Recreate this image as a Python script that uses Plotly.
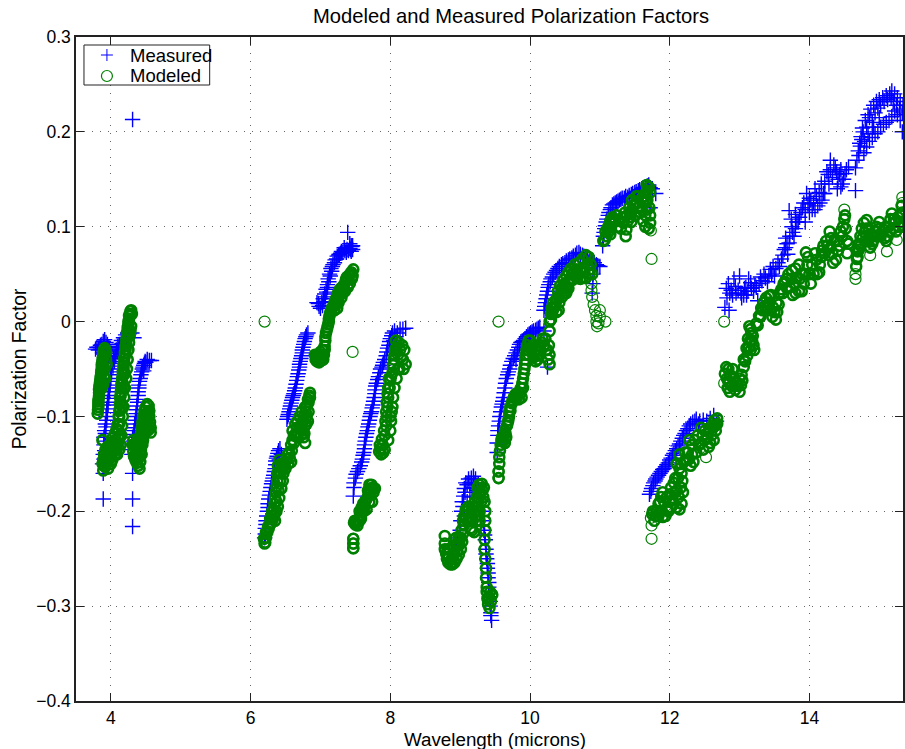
import plotly.graph_objects as go

# Values: (wavelength in microns, polarization factor)
measured_a = [(3.78,-.029),(3.8,-.027),(3.83,-.027),(3.85,-.025),(3.87,-.024),(3.89,-.021),(3.91,-.019),(3.93,-.022),(3.95,-.024),(3.97,-.027),(3.98,-.031),(3.96,-.036),(3.89,-.187),(3.89,-.16),(3.88,-.15),(3.89,-.14),(3.9,-.13),(3.9,-.122),(3.91,-.115),(3.92,-.108),(3.93,-.1),(3.94,-.092),(3.95,-.085),(3.96,-.078),(3.97,-.07),(3.98,-.063),(3.99,-.056),(4.0,-.05),(4.02,-.044),(4.04,-.039),(4.06,-.034),(4.08,-.03),(4.1,-.026),(4.12,-.024),(4.15,-.02),(4.18,-.017),(4.21,-.014),(4.24,-.012),(4.26,-.013),(4.3,-.012),(4.33,-.017)]
measured_a2 = [(3.9,-.145),(3.91,-.136),(3.92,-.126),(3.92,-.118),(3.93,-.111),(3.94,-.104),(3.95,-.096),(3.96,-.088),(3.97,-.081),(3.98,-.074),(3.99,-.067),(4.0,-.06),(4.01,-.053),(4.03,-.047),(4.05,-.042),(4.07,-.037),(4.09,-.032),(4.11,-.029),(4.13,-.027),(4.16,-.023),(4.19,-.02),(4.22,-.017),(3.88,-.033),(3.92,-.03),(3.94,-.028),(3.9,-.026),(3.85,-.029),(3.82,-.03)]
measured_b = [(4.31,.213),(4.31,-.216),(4.31,-.187),(4.31,-.16),(4.3,-.14),(4.3,-.13),(4.31,-.122),(4.33,-.115),(4.34,-.108),(4.36,-.1),(4.37,-.093),(4.38,-.085),(4.39,-.078),(4.4,-.07),(4.41,-.063),(4.43,-.056),(4.45,-.05),(4.47,-.046),(4.49,-.042),(4.52,-.04),(4.55,-.041),(4.58,-.041)]
measured_b2 = [(4.31,-.135),(4.32,-.126),(4.33,-.119),(4.34,-.112),(4.35,-.104),(4.36,-.097),(4.37,-.089),(4.38,-.082),(4.39,-.074),(4.4,-.067),(4.42,-.06),(4.44,-.053),(4.46,-.048),(4.48,-.044),(4.5,-.043),(4.47,-.052)]
measured_c = [(6.2,-.228),(6.21,-.218),(6.22,-.21),(6.24,-.2),(6.25,-.192),(6.27,-.183),(6.29,-.175),(6.31,-.168),(6.33,-.162),(6.35,-.155),(6.36,-.147),(6.38,-.142),(6.4,-.136),(6.42,-.134),(6.44,-.14),(6.52,-.103),(6.54,-.098),(6.56,-.092),(6.58,-.086),(6.6,-.08),(6.62,-.076),(6.64,-.07),(6.66,-.062),(6.68,-.055),(6.7,-.048),(6.71,-.042),(6.73,-.036),(6.74,-.03),(6.76,-.024),(6.78,-.018),(6.8,-.014),(6.82,-.012)]
measured_c2 = [(6.21,-.224),(6.22,-.214),(6.23,-.205),(6.25,-.196),(6.26,-.187),(6.28,-.179),(6.3,-.171),(6.32,-.165),(6.34,-.158),(6.36,-.151),(6.37,-.144),(6.39,-.139),(6.41,-.146),(6.53,-.1),(6.55,-.095),(6.57,-.089),(6.59,-.083),(6.61,-.078),(6.63,-.073),(6.65,-.066),(6.67,-.058),(6.69,-.051),(6.7,-.045),(6.72,-.039),(6.74,-.033),(6.75,-.027),(6.77,-.021),(6.79,-.016)]
measured_d = [(6.95,.02),(6.98,.016),(7.0,.014),(7.03,.017),(7.05,.021),(7.07,.026),(7.09,.031),(7.1,.036),(7.12,.042),(7.14,.048),(7.16,.053),(7.17,.058),(7.2,.062),(7.23,.066),(7.26,.07),(7.29,.072),(7.32,.073),(7.35,.075),(7.38,.076),(7.39,.094),(7.42,.077),(7.45,.079),(7.44,.08),(7.46,.08),(7.46,.076)]
measured_d2 = [(6.97,.019),(7.02,.02),(7.04,.024),(7.06,.029),(7.08,.034),(7.1,.039),(7.11,.045),(7.13,.05),(7.15,.056),(7.18,.06),(7.21,.065),(7.24,.069),(7.27,.071),(7.3,.074),(7.34,.078),(7.37,.073),(7.4,.075),(7.44,.074),(7.43,.076),(7.42,.082)]
measured_e = [(7.47,-.184),(7.48,-.175),(7.5,-.165),(7.53,-.158),(7.57,-.152),(7.6,-.145),(7.62,-.138),(7.63,-.13),(7.65,-.122),(7.67,-.115),(7.69,-.108),(7.71,-.1),(7.73,-.095),(7.75,-.088),(7.77,-.08),(7.78,-.072),(7.8,-.065),(7.83,-.058),(7.86,-.05),(7.89,-.046),(7.92,-.04),(7.95,-.032),(7.98,-.025),(8.0,-.018),(8.03,-.012),(8.06,-.01),(8.1,-.012),(8.14,-.008),(8.18,-.008),(8.22,-.007)]
measured_e2 = [(7.48,-.17),(7.51,-.161),(7.55,-.155),(7.59,-.148),(7.61,-.141),(7.63,-.134),(7.64,-.126),(7.66,-.118),(7.68,-.111),(7.7,-.104),(7.72,-.097),(7.74,-.091),(7.76,-.084),(7.78,-.076),(7.79,-.068),(7.82,-.061),(7.85,-.054),(7.88,-.048),(7.9,-.043),(7.94,-.036),(7.96,-.028),(7.99,-.021),(8.02,-.015),(8.05,-.02),(8.08,-.016)]
measured_f = [(8.84,-.25),(8.88,-.24),(8.92,-.235),(8.96,-.228),(9.0,-.22),(9.01,-.21),(9.02,-.2),(9.03,-.19),(9.05,-.184),(9.06,-.176),(9.08,-.17),(9.12,-.166),(9.16,-.165),(9.19,-.163),(9.22,-.166),(9.26,-.172),(9.29,-.18),(9.3,-.19),(9.32,-.2),(9.33,-.21),(9.34,-.22),(9.36,-.23),(9.37,-.24),(9.38,-.25),(9.39,-.26),(9.4,-.27),(9.41,-.28),(9.42,-.29),(9.43,-.3),(9.44,-.307),(9.45,-.315)]
measured_f2 = [(9.04,-.195),(9.07,-.18),(9.1,-.172),(9.14,-.17),(9.17,-.175),(9.2,-.17),(9.24,-.178),(9.1,-.19),(9.14,-.185),(9.06,-.205),(9.35,-.225),(9.37,-.245),(9.39,-.255),(9.4,-.265),(9.41,-.275),(9.42,-.285),(9.43,-.295),(9.44,-.31)]
measured_g = [(9.53,-.138),(9.53,-.128),(9.54,-.12),(9.55,-.11),(9.57,-.1),(9.59,-.09),(9.61,-.084),(9.63,-.075),(9.65,-.065),(9.68,-.056),(9.71,-.05),(9.74,-.042),(9.78,-.036),(9.82,-.03),(9.85,-.024),(9.89,-.021),(9.93,-.018),(9.97,-.014),(10.01,-.012),(10.05,-.01),(10.1,-.008),(10.14,-.006),(10.2,-.01),(10.25,-.048)]
measured_g2 = [(9.54,-.115),(9.56,-.105),(9.58,-.095),(9.6,-.087),(9.62,-.08),(9.64,-.07),(9.66,-.06),(9.69,-.053),(9.72,-.046),(9.76,-.039),(9.8,-.033),(9.84,-.027),(9.87,-.022),(9.91,-.02),(9.95,-.016),(9.99,-.013),(10.03,-.011),(10.08,-.009),(10.12,-.007),(9.8,-.04)]
measured_h = [(10.2,.012),(10.22,.02),(10.24,.028),(10.26,.036),(10.29,.042),(10.32,.047),(10.36,.052),(10.4,.056),(10.45,.06),(10.5,.062),(10.55,.065),(10.6,.067),(10.65,.07),(10.7,.073),(10.75,.07),(10.8,.068),(10.85,.066),(10.9,.064),(10.95,.06),(11.0,.058),(10.9,.04),(10.89,.03)]
measured_h2 = [(10.21,.016),(10.23,.024),(10.25,.032),(10.27,.039),(10.3,.045),(10.34,.05),(10.38,.054),(10.42,.058),(10.47,.061),(10.52,.064),(10.57,.066),(10.62,.069),(10.67,.072),(10.72,.071),(10.77,.069),(10.82,.067),(10.88,.065),(10.92,.062),(10.97,.059),(10.9,.05)]
measured_i = [(11.04,.08),(11.05,.09),(11.07,.098),(11.09,.105),(11.12,.112),(11.15,.118),(11.18,.123),(11.22,.125),(11.26,.127),(11.3,.129),(11.35,.13),(11.4,.131),(11.45,.134),(11.5,.136),(11.55,.138),(11.6,.14),(11.65,.142),(11.7,.144),(11.75,.14),(11.8,.135),(11.72,.12)]
measured_i2 = [(11.06,.094),(11.08,.101),(11.1,.108),(11.13,.115),(11.16,.12),(11.2,.124),(11.24,.126),(11.28,.128),(11.32,.13),(11.37,.132),(11.42,.133),(11.47,.135),(11.52,.137),(11.57,.139),(11.62,.141),(11.68,.143),(11.72,.141)]
measured_j = [(11.71,-.182),(11.74,-.176),(11.77,-.17),(11.8,-.166),(11.84,-.162),(11.88,-.158),(11.92,-.155),(11.96,-.151),(12.0,-.146),(12.04,-.141),(12.08,-.136),(12.12,-.131),(12.16,-.126),(12.2,-.12),(12.24,-.115),(12.28,-.11),(12.33,-.106),(12.38,-.103),(12.43,-.105),(12.48,-.104),(12.53,-.105),(12.58,-.102),(12.63,-.099),(12.67,-.105)]
measured_j2 = [(11.73,-.179),(11.76,-.173),(11.79,-.168),(11.82,-.164),(11.86,-.16),(11.9,-.156),(11.94,-.153),(11.98,-.149),(12.02,-.144),(12.06,-.139),(12.1,-.134),(12.14,-.129),(12.18,-.123),(12.22,-.118),(12.26,-.113),(12.3,-.108),(12.36,-.105),(12.41,-.108)]
measured_k = [(12.79,.015),(12.85,.012),(12.82,.025),(12.81,.035),(12.84,.04),(12.88,.033),(12.92,.045),(12.95,.03),(13.0,.048),(13.03,.025),(13.07,.035),(13.1,.028),(13.13,.045),(13.17,.035),(13.22,.038),(13.26,.022),(13.3,.047),(13.35,.05),(13.4,.042),(13.44,.055),(13.48,.058),(13.5,.048),(13.55,.062),(13.6,.066),(13.64,.076),(13.66,.088),(13.69,.071),(13.71,.083),(13.71,.117),(13.75,.1),(13.78,.09),(13.74,.108),(13.8,.113),(13.84,.105),(13.88,.115),(13.92,.125),(13.96,.135),(14.0,.13),(14.04,.118),(14.08,.14),(14.12,.122),(14.17,.145),(14.2,.135),(14.25,.158),(14.3,.17),(14.33,.152),(14.37,.162),(14.41,.15),(14.45,.16),(14.47,.145),(14.51,.156),(14.56,.163),(14.66,.162),(14.66,.138)]
measured_k2 = [(12.86,.03),(12.9,.028),(12.94,.037),(12.98,.033),(13.02,.03),(13.06,.028),(13.09,.036),(13.12,.032),(13.16,.041),(13.2,.032),(13.24,.036),(13.28,.04),(13.32,.043),(13.37,.046),(13.42,.048),(13.46,.05),(13.52,.056),(13.57,.058),(13.62,.07),(13.66,.078),(13.68,.082),(13.72,.09),(13.76,.094),(13.8,.098),(13.82,.105),(13.86,.11),(13.9,.12),(13.94,.118),(13.98,.124),(14.02,.128),(14.06,.125),(14.1,.132),(14.14,.136),(14.18,.128),(14.22,.148),(14.27,.155),(14.3,.16),(14.35,.165),(14.39,.158),(14.43,.155),(14.49,.15),(14.53,.16),(13.94,.105),(14.0,.115),(14.08,.118),(14.15,.125),(14.22,.135),(14.28,.145),(14.4,.14),(14.45,.142)]
measured_l = [(14.68,.17),(14.7,.18),(14.72,.188),(14.74,.195),(14.76,.204),(14.8,.212),(14.84,.218),(14.88,.224),(14.92,.228),(14.96,.232),(15.0,.234),(15.05,.236),(15.1,.238),(15.15,.24),(15.18,.243),(15.22,.24),(15.26,.236),(15.3,.232),(15.34,.228),(14.78,.178),(14.82,.184),(14.86,.19),(14.9,.194),(14.94,.198),(14.98,.2),(15.02,.205),(15.06,.208),(15.1,.21),(15.14,.212),(15.18,.216),(15.22,.222),(15.26,.218),(15.3,.212),(15.33,.2)]
measured_l2 = [(14.71,.175),(14.73,.185),(14.75,.192),(14.77,.2),(14.79,.19),(14.82,.205),(14.86,.215),(14.9,.21),(14.94,.22),(14.98,.225),(15.02,.228),(15.07,.232),(15.12,.234),(15.17,.236),(15.2,.232),(15.25,.228),(15.29,.224),(15.33,.22),(14.84,.198),(14.92,.205),(15.0,.215)]

modeled_a = [(3.81,-.097),(3.82,-.09),(3.82,-.084),(3.83,-.078),(3.83,-.072),(3.84,-.066),(3.85,-.06),(3.86,-.054),(3.87,-.05),(3.87,-.045),(3.88,-.04),(3.89,-.036),(3.9,-.031),(3.91,-.028),(3.93,-.033),(3.94,-.045),(3.92,-.06)]
modeled_a2 = [(3.815,-.093),(3.82,-.087),(3.825,-.081),(3.83,-.075),(3.835,-.069),(3.845,-.063),(3.855,-.057),(3.865,-.052),(3.87,-.047),(3.875,-.043),(3.885,-.038),(3.895,-.033),(3.905,-.03),(3.92,-.03),(3.93,-.04),(3.91,-.05),(3.9,-.058),(3.89,-.066),(3.87,-.07)]
modeled_b = [(3.89,-.157),(3.9,-.152),(3.91,-.147),(3.92,-.143),(3.94,-.14),(3.96,-.138),(3.98,-.136),(4.0,-.135),(4.02,-.132),(4.05,-.13),(4.07,-.125),(3.88,-.15),(3.88,-.125),(3.92,-.153),(3.95,-.148),(3.98,-.145),(4.01,-.14),(4.04,-.137),(4.07,-.128),(4.1,-.122),(4.11,-.115),(4.12,-.108),(4.12,-.1),(4.13,-.092),(4.14,-.085),(4.14,-.078),(4.15,-.07),(4.16,-.063),(4.17,-.056),(4.18,-.05),(4.19,-.043),(4.2,-.036),(4.21,-.03),(4.22,-.023),(4.23,-.016),(4.24,-.009),(4.25,-.003),(4.26,.003),(4.27,.008),(4.28,.011),(4.29,.012),(4.3,.008),(4.29,-.005),(4.27,-.015),(4.25,-.03),(4.23,-.05),(4.2,-.07),(4.18,-.09),(4.16,-.11),(4.14,-.13),(4.06,-.14)]
modeled_b2 = [(3.89,-.146),(3.9,-.14),(3.92,-.135),(3.95,-.132),(3.98,-.13),(4.01,-.128),(4.03,-.122),(4.06,-.118),(4.08,-.113),(4.1,-.108),(4.11,-.1),(4.12,-.094),(4.13,-.087),(4.13,-.08),(4.14,-.074),(4.15,-.066),(4.16,-.06),(4.17,-.053),(4.18,-.046),(4.19,-.039),(4.2,-.033),(4.21,-.026),(4.22,-.019),(4.23,-.012),(4.24,-.006),(4.25,0),(4.26,.006),(4.28,-.01),(4.26,-.022),(4.24,-.04),(4.22,-.06),(4.19,-.08),(4.17,-.1),(4.15,-.12),(4.12,-.135),(4.09,-.14),(4.0,-.15),(3.96,-.155),(4.16,-.09),(4.18,-.07),(4.2,-.055),(3.93,-.148),(3.97,-.142),(4.02,-.146),(4.05,-.135),(4.08,-.133),(4.1,-.128),(4.12,-.12)]
modeled_c = [(4.32,-.125),(4.31,-.13),(4.32,-.137),(4.33,-.142),(4.35,-.146),(4.37,-.149),(4.39,-.152),(4.41,-.155),(4.38,-.14),(4.36,-.133),(4.4,-.13),(4.42,-.125),(4.43,-.118),(4.44,-.112),(4.45,-.106),(4.46,-.1),(4.48,-.094),(4.5,-.09),(4.52,-.087),(4.54,-.089),(4.55,-.094),(4.55,-.1),(4.56,-.106),(4.57,-.112),(4.57,-.117),(4.53,-.115),(4.5,-.112),(4.47,-.11),(4.47,-.12),(4.45,-.13)]
modeled_c2 = [(4.34,-.13),(4.37,-.135),(4.4,-.143),(4.42,-.148),(4.43,-.135),(4.41,-.122),(4.45,-.118),(4.47,-.104),(4.49,-.098),(4.51,-.1),(4.53,-.095),(4.52,-.106),(4.55,-.11),(4.49,-.108),(4.46,-.125),(4.44,-.14),(4.39,-.145),(4.35,-.14),(4.42,-.14),(4.38,-.125),(4.48,-.115),(4.43,-.128)]
modeled_d = [(6.19,-.229),(6.2,-.234),(6.21,-.233),(6.22,-.228),(6.24,-.222),(6.26,-.218),(6.28,-.214),(6.3,-.212),(6.32,-.208),(6.35,-.21),(6.37,-.2),(6.39,-.195),(6.41,-.186),(6.3,-.205),(6.33,-.198),(6.34,-.192),(6.35,-.186),(6.36,-.18),(6.37,-.174),(6.38,-.168),(6.38,-.16),(6.39,-.152),(6.41,-.146),(6.43,-.15),(6.45,-.155),(6.47,-.16),(6.46,-.168),(6.44,-.176),(6.49,-.15),(6.52,-.145),(6.54,-.15),(6.58,-.148),(6.55,-.138),(6.58,-.13),(6.6,-.125),(6.62,-.12),(6.6,-.115),(6.64,-.108),(6.66,-.112),(6.68,-.118),(6.72,-.12),(6.76,-.122),(6.78,-.128),(6.73,-.11),(6.7,-.1),(6.75,-.105),(6.78,-.11),(6.73,-.095),(6.78,-.09),(6.82,-.082),(6.85,-.075),(6.85,-.08),(6.83,-.095),(6.8,-.1),(6.8,-.108)]
modeled_d2 = [(6.22,-.222),(6.25,-.216),(6.28,-.208),(6.31,-.2),(6.34,-.204),(6.37,-.19),(6.4,-.178),(6.42,-.168),(6.4,-.158),(6.43,-.16),(6.46,-.15),(6.5,-.155),(6.53,-.14),(6.56,-.144),(6.59,-.136),(6.62,-.128),(6.65,-.12),(6.67,-.105),(6.7,-.112),(6.74,-.115),(6.76,-.1),(6.79,-.095),(6.81,-.088),(6.83,-.085),(6.84,-.078),(6.82,-.105),(6.77,-.118)]
modeled_e = [(6.92,-.035),(6.93,-.04),(6.95,-.042),(6.98,-.043),(7.01,-.041),(7.04,-.04),(7.05,-.035),(7.03,-.03),(7.0,-.032),(6.97,-.035),(7.06,-.03),(7.07,-.02),(7.08,-.012),(7.1,-.006),(7.12,0),(7.13,.006),(7.15,.011),(7.17,.015),(7.2,.012),(7.22,.018),(7.24,.014),(7.26,.02),(7.2,.02),(7.23,.025),(7.25,.03),(7.27,.033),(7.29,.035),(7.32,.03),(7.35,.032),(7.33,.038),(7.36,.043),(7.38,.047),(7.41,.049),(7.44,.052),(7.47,.055),(7.46,.048),(7.42,.04)]
modeled_e2 = [(6.94,-.036),(6.96,-.038),(6.99,-.038),(7.02,-.036),(7.06,-.026),(7.07,-.016),(7.09,-.009),(7.11,-.003),(7.12,.003),(7.14,.009),(7.16,.013),(7.19,.016),(7.21,.022),(7.24,.022),(7.28,.028),(7.3,.025),(7.31,.033),(7.34,.035),(7.37,.045),(7.4,.044),(7.43,.05),(7.45,.045),(7.39,.036)]
modeled_f = [(7.47,-.239),(7.47,-.234),(7.47,-.229),(7.48,-.212),(7.5,-.214),(7.53,-.215),(7.56,-.21),(7.58,-.208),(7.56,-.2),(7.59,-.196),(7.61,-.192),(7.64,-.19),(7.62,-.2),(7.67,-.186),(7.68,-.178),(7.7,-.172),(7.73,-.172),(7.76,-.18),(7.78,-.176),(7.74,-.19),(7.72,-.18)]
modeled_f2 = [(7.49,-.21),(7.51,-.212),(7.54,-.21),(7.57,-.204),(7.6,-.2),(7.63,-.195),(7.65,-.188),(7.69,-.182),(7.71,-.176),(7.75,-.175),(7.7,-.19),(7.66,-.198)]
modeled_g = [(7.84,-.137),(7.87,-.14),(7.9,-.138),(7.92,-.135),(7.85,-.13),(7.88,-.124),(7.91,-.115),(7.93,-.105),(7.94,-.095),(7.95,-.085),(7.96,-.076),(7.97,-.07),(7.98,-.06),(8.0,-.062),(8.03,-.054),(8.05,-.04),(8.07,-.03),(8.08,-.02),(8.1,-.025),(8.12,-.022),(8.14,-.03),(8.17,-.025),(8.2,-.03),(8.22,-.045),(8.19,-.05),(8.13,-.05),(8.09,-.06),(8.04,-.08),(8.02,-.095),(8.01,-.105),(8.0,-.115),(7.97,-.125)]
modeled_g2 = [(7.86,-.134),(7.89,-.13),(7.92,-.12),(7.94,-.11),(7.95,-.1),(7.96,-.09),(7.97,-.08),(7.99,-.07),(8.01,-.058),(8.04,-.046),(8.06,-.035),(8.08,-.028),(8.11,-.035),(8.15,-.038),(8.18,-.04),(8.11,-.05),(8.06,-.07),(8.03,-.09),(8.0,-.1)]
modeled_h = [(8.78,-.226),(8.78,-.234),(8.78,-.24),(8.8,-.245),(8.81,-.25),(8.83,-.254),(8.86,-.256),(8.89,-.256),(8.92,-.254),(8.95,-.25),(8.98,-.246),(9.01,-.24),(9.03,-.232),(9.04,-.224),(8.85,-.24),(8.9,-.245),(8.95,-.236),(9.05,-.215),(9.06,-.205),(9.08,-.208),(9.1,-.2),(9.13,-.21),(9.15,-.218),(9.17,-.22),(9.2,-.222),(9.18,-.21),(9.2,-.2),(9.21,-.19),(9.24,-.185),(9.25,-.175),(9.27,-.172),(9.31,-.171),(9.34,-.175),(9.33,-.185),(9.3,-.19),(9.28,-.2),(9.28,-.21),(9.24,-.21),(9.25,-.2)]
modeled_h2 = [(8.82,-.24),(8.84,-.248),(8.88,-.25),(8.92,-.245),(8.96,-.242),(8.99,-.235),(9.01,-.228),(9.02,-.22),(8.9,-.236),(8.94,-.228),(8.98,-.228),(9.04,-.21),(9.08,-.198),(9.11,-.21),(9.15,-.208),(9.12,-.195),(9.16,-.2),(9.22,-.205),(9.23,-.195),(9.26,-.19),(9.29,-.18),(9.32,-.178),(9.27,-.182),(9.18,-.195)]
modeled_i = [(9.35,-.19),(9.36,-.2),(9.36,-.21),(9.36,-.22),(9.35,-.23),(9.35,-.24),(9.36,-.25),(9.37,-.26),(9.37,-.27),(9.38,-.28),(9.38,-.285),(9.39,-.292),(9.4,-.298),(9.42,-.302),(9.44,-.295),(9.46,-.288),(9.43,-.285),(9.41,-.29)]
modeled_j = [(9.55,-.165),(9.55,-.158),(9.56,-.15),(9.56,-.143),(9.57,-.136),(9.58,-.13),(9.59,-.125),(9.62,-.126),(9.64,-.128),(9.66,-.122),(9.64,-.115),(9.67,-.11),(9.69,-.104),(9.7,-.095),(9.72,-.09),(9.74,-.086),(9.77,-.08),(9.8,-.076),(9.83,-.075),(9.86,-.076),(9.88,-.08),(9.9,-.07),(9.9,-.06),(9.92,-.05),(9.93,-.04),(9.95,-.03),(9.96,-.025),(9.98,-.02),(10.0,-.02),(10.03,-.03),(10.05,-.038),(10.08,-.042),(10.11,-.04),(10.14,-.035),(10.15,-.025),(10.18,-.018),(10.22,-.018),(10.25,-.03),(10.26,-.04),(10.28,-.045),(10.28,-.035),(10.27,-.025),(10.02,-.03),(10.08,-.03),(10.12,-.025),(9.98,-.035)]
modeled_j2 = [(9.6,-.122),(9.63,-.12),(9.65,-.118),(9.68,-.107),(9.7,-.1),(9.72,-.094),(9.75,-.083),(9.78,-.078),(9.81,-.08),(9.84,-.082),(9.87,-.07),(9.89,-.065),(9.91,-.055),(9.93,-.045),(9.94,-.035),(9.97,-.03),(10.0,-.028),(10.04,-.025),(10.06,-.034),(10.1,-.036),(10.14,-.03),(10.17,-.022),(10.2,-.025),(10.23,-.03)]
modeled_k = [(10.28,-.01),(10.28,0),(10.3,.008),(10.31,.014),(10.33,.02),(10.36,.016),(10.38,.01),(10.41,.012),(10.38,.024),(10.4,.032),(10.43,.038),(10.46,.036),(10.49,.03),(10.52,.03),(10.55,.035),(10.48,.044),(10.52,.048),(10.55,.052),(10.59,.056),(10.62,.052),(10.65,.048),(10.68,.046),(10.72,.045),(10.76,.046),(10.8,.046),(10.64,.06),(10.7,.062),(10.75,.066),(10.8,.07),(10.84,.068),(10.87,.06),(10.89,.05),(10.85,.05)]
modeled_k2 = [(10.3,.002),(10.32,.01),(10.34,.014),(10.37,.02),(10.41,.026),(10.44,.03),(10.46,.026),(10.5,.04),(10.54,.042),(10.58,.045),(10.61,.044),(10.66,.055),(10.72,.055),(10.77,.057),(10.82,.06),(10.86,.055),(10.78,.052),(10.68,.052),(10.6,.05),(10.52,.036),(10.42,.02)]
modeled_m = [(11.05,.085),(11.07,.086),(11.09,.09),(11.12,.094),(11.15,.092),(11.12,.1),(11.15,.106),(11.18,.11),(11.22,.106),(11.26,.1),(11.3,.098),(11.34,.104),(11.37,.09),(11.38,.097),(11.4,.106),(11.42,.12),(11.44,.11),(11.46,.118),(11.5,.124),(11.46,.128),(11.52,.132),(11.55,.132),(11.6,.13),(11.62,.126),(11.58,.115),(11.62,.106),(11.65,.1),(11.7,.098),(11.72,.104),(11.72,.112),(11.71,.12),(11.68,.128),(11.66,.136),(11.67,.144),(11.7,.142)]
modeled_m2 = [(11.08,.095),(11.11,.098),(11.14,.1),(11.17,.104),(11.2,.108),(11.24,.112),(11.28,.106),(11.32,.11),(11.36,.115),(11.39,.112),(11.43,.114),(11.48,.122),(11.53,.126),(11.57,.122),(11.6,.118),(11.55,.12),(11.5,.112),(11.45,.105),(11.65,.112),(11.68,.118),(11.66,.126),(11.63,.132),(11.68,.138),(11.72,.136)]
modeled_n = [(11.75,-.203),(11.78,-.21),(11.81,-.2),(11.84,-.192),(11.87,-.2),(11.9,-.206),(11.94,-.205),(11.98,-.2),(12.02,-.196),(12.06,-.192),(12.1,-.196),(12.14,-.198),(12.17,-.192),(12.19,-.18),(12.18,-.168),(12.17,-.16),(12.14,-.155),(12.08,-.165),(12.02,-.175),(11.96,-.185),(11.9,-.18),(12.08,-.18),(12.0,-.19),(12.1,-.15),(12.14,-.14),(12.2,-.148),(12.24,-.146),(12.26,-.138),(12.3,-.152),(12.34,-.148),(12.38,-.138),(12.28,-.125),(12.32,-.13),(12.36,-.125),(12.4,-.12),(12.45,-.128),(12.48,-.135),(12.56,-.132),(12.6,-.12),(12.63,-.125),(12.66,-.115),(12.68,-.108),(12.68,-.102),(12.64,-.104),(12.6,-.11),(12.56,-.114),(12.5,-.115),(12.45,-.112)]
modeled_n2 = [(11.76,-.2),(11.8,-.205),(11.84,-.205),(11.86,-.19),(11.88,-.185),(11.92,-.19),(11.96,-.198),(12.0,-.182),(12.04,-.188),(12.06,-.17),(12.1,-.178),(12.13,-.185),(12.16,-.175),(12.12,-.165),(12.16,-.15),(12.22,-.138),(12.28,-.145),(12.32,-.14),(12.42,-.13),(12.5,-.125),(12.54,-.122),(12.58,-.128),(12.62,-.112),(12.65,-.11),(12.47,-.12)]
modeled_o = [(12.79,-.055),(12.81,-.048),(12.84,-.05),(12.86,-.056),(12.84,-.063),(12.83,-.07),(12.86,-.074),(12.89,-.068),(12.92,-.06),(12.96,-.064),(13.0,-.074),(13.02,-.067),(13.03,-.056),(13.06,-.048),(13.08,-.042),(13.11,-.036),(13.13,-.028),(13.15,-.02),(13.17,-.012),(13.14,-.005),(13.18,-.02),(13.2,-.025),(13.21,-.03),(13.24,-.002),(13.28,.006),(13.31,.014),(13.34,.02),(13.38,.025),(13.42,.027),(13.45,.028),(13.48,.015),(13.52,.002),(13.54,.01),(13.56,.018),(13.58,.03),(13.6,.034),(13.63,.04),(13.67,.045),(13.7,.05),(13.75,.054),(13.72,.036),(13.76,.028),(13.8,.03),(13.85,.032),(13.89,.032),(13.92,.04),(13.9,.05),(13.85,.06),(13.8,.056),(13.95,.073),(13.97,.06),(14.0,.05),(14.04,.06),(14.08,.072),(14.11,.05),(14.14,.052),(14.17,.068),(14.2,.08),(14.24,.085),(14.29,.095),(14.31,.088),(14.28,.07),(14.34,.062),(14.38,.065),(14.41,.075),(14.45,.095),(14.5,.108),(14.52,.098),(14.54,.085),(14.54,.072),(14.56,.082)]
modeled_o2 = [(12.82,-.06),(12.85,-.065),(12.88,-.058),(12.9,-.05),(12.94,-.072),(12.98,-.068),(13.0,-.06),(13.04,-.062),(13.06,-.04),(13.1,-.028),(13.12,-.018),(13.16,-.03),(13.16,-.008),(13.19,-.015),(13.26,-.004),(13.3,.005),(13.33,.012),(13.36,.016),(13.4,.015),(13.43,.02),(13.47,.005),(13.44,.012),(13.5,.01),(13.53,.02),(13.57,.03),(13.62,.03),(13.65,.042),(13.68,.035),(13.74,.045),(13.78,.04),(13.82,.046),(13.86,.045),(13.94,.05),(13.98,.068),(14.02,.04),(14.06,.05),(14.1,.065),(14.15,.06),(14.18,.075),(14.22,.072),(14.26,.08),(14.3,.078),(14.33,.072),(14.36,.085),(14.4,.085),(14.43,.08),(14.47,.09),(14.48,.1),(14.51,.112)]
modeled_p = [(14.67,.058),(14.68,.066),(14.69,.074),(14.71,.082),(14.73,.09),(14.75,.098),(14.78,.104),(14.82,.107),(14.85,.098),(14.86,.088),(14.87,.078),(14.9,.082),(14.92,.09),(14.96,.1),(15.0,.105),(15.04,.095),(15.08,.088),(15.1,.085),(15.13,.1),(15.16,.108),(15.18,.114),(15.21,.108),(15.24,.095),(15.28,.1),(15.3,.113),(15.32,.122),(15.33,.115),(15.34,.1)]
modeled_p2 = [(14.69,.068),(14.71,.076),(14.73,.08),(14.76,.088),(14.79,.094),(14.81,.098),(14.84,.085),(14.88,.092),(14.91,.085),(14.94,.095),(14.98,.09),(15.02,.09),(15.06,.097),(15.09,.1),(15.12,.09),(15.15,.095),(15.2,.098),(15.23,.105),(15.27,.11),(15.31,.105),(14.8,.085),(15.0,.098)]
# circles that stand apart from the clusters
modeled_apart = [(6.2,0),(7.46,-.032),(9.55,0),(7.47,-.239),(7.47,-.234),(7.47,-.229),(10.88,.04),(10.88,.033),(10.89,.026),(10.91,.018),(10.93,.012),(10.95,.006),(10.95,0),(10.96,-.005),(10.98,-.002),(11.0,.005),(11.0,.012),(11.08,0),(11.74,.066),(11.73,.096),(11.74,-.229),(11.74,-.215),(11.73,-.207),(12.52,-.143),(12.78,0),(12.78,-.065),(14.5,.118),(14.66,.045),(14.66,.05),(14.87,.07),(15.11,.074),(15.25,.086),(15.33,.131),(15.33,.125),(3.88,-.125),(9.55,-.165),(9.55,-.158)]

measured_groups = [measured_a, measured_a2, measured_b, measured_b2, measured_c, measured_c2, measured_d, measured_d2,
                   measured_e, measured_e2, measured_f, measured_f2, measured_g, measured_g2, measured_h, measured_h2,
                   measured_i, measured_i2, measured_j, measured_j2, measured_k, measured_k2, measured_l, measured_l2]
modeled_groups = [modeled_a, modeled_a2, modeled_b, modeled_b2, modeled_c, modeled_c2, modeled_d, modeled_d2,
                  modeled_e, modeled_e2, modeled_f, modeled_f2, modeled_g, modeled_g2, modeled_h, modeled_h2,
                  modeled_i, modeled_j, modeled_j2, modeled_k, modeled_k2, modeled_m, modeled_m2,
                  modeled_n, modeled_n2, modeled_o, modeled_o2, modeled_p, modeled_p2]
y_ticks = [-.4, -.3, -.2, -.1, 0, .1, .2, .3]
y_labels = ["−0.4", "−0.3", "−0.2", "−0.1", "0", "0.1", "0.2", "0.3"]
x_ticks = [4, 6, 8, 10, 12, 14]

def unpack(groups):
    pts = [p for g in groups for p in g]
    return [p[0] for p in pts], [p[1] for p in pts]

mx, my = unpack(measured_groups)
ox, oy = unpack(modeled_groups)
ax, ay = unpack([modeled_apart])

BLUE, GREEN = "#0000ff", "#008000"
fig = go.Figure()
fig.add_trace(go.Scatter(x=mx, y=my, mode="markers", name="Measured", showlegend=False,
    marker=dict(symbol="cross-thin-open", size=11, color=BLUE, line=dict(color=BLUE, width=1.4))))
fig.add_trace(go.Scatter(x=ox, y=oy, mode="markers", name="Modeled", showlegend=False,
    marker=dict(symbol="circle-open", size=10, color=GREEN, line=dict(color=GREEN, width=2.6))))
fig.add_trace(go.Scatter(x=ax, y=ay, mode="markers", name="Modeled", showlegend=False,
    marker=dict(symbol="circle-open", size=11, color=GREEN, line=dict(color=GREEN, width=1.2))))

font = "Liberation Sans, Arial, sans-serif"
axis = dict(showline=True, linecolor="#222", linewidth=1.5, mirror="ticks", ticks="inside", ticklen=8, tickwidth=1,
            tickcolor="#222", showgrid=True, gridcolor="#666", griddash="1px,7px", gridwidth=1, zeroline=False,
            tickfont=dict(family=font, size=17.5, color="#000"))

W, H = 905, 749
LEFT, RIGHT, TOP, BOTTOM = 76, 905, 37, 701
def fx(v): return (v - LEFT) / (RIGHT - LEFT)
def fy(v): return (BOTTOM - v) / (BOTTOM - TOP)
shapes = [
    dict(type="rect", xref="paper", yref="paper", x0=fx(84), x1=fx(210), y0=fy(85), y1=fy(45),
         line=dict(color="#222", width=1), fillcolor="white", layer="above"),
    dict(type="line", xref="paper", yref="paper", x0=fx(101), x1=fx(113), y0=fy(55), y1=fy(55), line=dict(color=BLUE, width=1), layer="above"),
    dict(type="line", xref="paper", yref="paper", x0=fx(107), x1=fx(107), y0=fy(49), y1=fy(61), line=dict(color=BLUE, width=1), layer="above"),
    dict(type="circle", xref="paper", yref="paper", x0=fx(101.5), x1=fx(112.5), y0=fy(81.5), y1=fy(70.5), line=dict(color=GREEN, width=1.2), layer="above"),
]
annotations = [
    dict(text="Measured", xref="paper", yref="paper", x=fx(130), y=fy(55), xanchor="left", yanchor="middle", showarrow=False, xshift=-2, font=dict(family=font, size=18.5, color="#000")),
    dict(text="Modeled", xref="paper", yref="paper", x=fx(130), y=fy(76), xanchor="left", yanchor="middle", showarrow=False, xshift=-2, font=dict(family=font, size=18.5, color="#000")),
    dict(text="Wavelength (microns)", xref="paper", yref="paper", x=fx(496), y=fy(739), xanchor="center", yanchor="middle", showarrow=False, font=dict(family=font, size=18.8, color="#000")),
]

fig.update_layout(
    width=W, height=H, autosize=False, margin=dict(l=LEFT, r=0, t=TOP, b=H - BOTTOM),
    paper_bgcolor="white", plot_bgcolor="white", font=dict(family=font, color="#000"), showlegend=False,
    title=dict(text="Modeled and Measured Polarization Factors", x=511 / W, xanchor="center", y=1 - 16 / H, yanchor="middle",
               font=dict(family=font, size=20.2)),
    xaxis=dict(axis, range=[3.5, 15.34], tickvals=x_ticks),
    yaxis=dict(axis, range=[-0.4, 0.3], tickvals=y_ticks, ticktext=y_labels,
               title=dict(text="Polarization Factor", font=dict(family=font, size=19.3), standoff=4)),
    shapes=shapes, annotations=annotations,
)
fig.write_html("out.html", config=dict(displayModeBar=False),
               post_script="document.body.style.margin='0';document.documentElement.style.overflow='hidden';")
